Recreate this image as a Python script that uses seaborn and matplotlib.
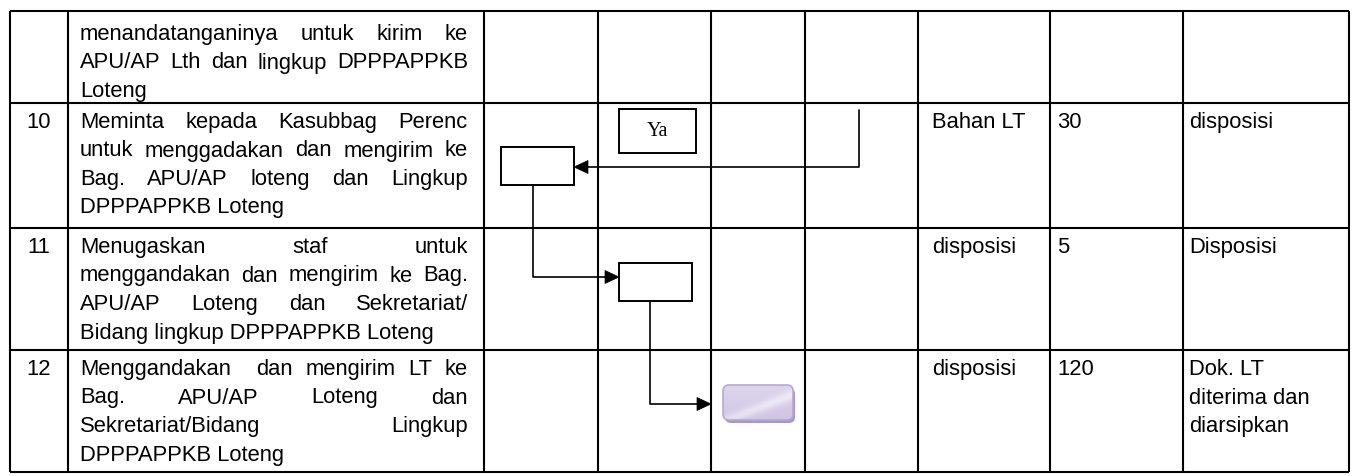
"""
Flowchart table (SOP steps 10-12) rebuilt with seaborn + matplotlib
"""

import numpy as np
import matplotlib
matplotlib.use('Agg')
import matplotlib.pyplot as plt
import seaborn as sns
from matplotlib import font_manager
from matplotlib.patches import Rectangle, FancyBboxPatch, Polygon
from matplotlib.colors import LinearSegmentedColormap

# ---- table content ----
step_numbers = ['', '10', '11', '12']
step_lines = [
    ['menandatanganinya untuk kirim ke', 'APU/AP Lth dan lingkup DPPPAPPKB', 'Loteng'],
    ['Meminta kepada Kasubbag Perenc', 'untuk menggadakan dan mengirim ke',
     'Bag. APU/AP loteng dan Lingkup', 'DPPPAPPKB Loteng'],
    ['Menugaskan staf untuk', 'menggandakan dan mengirim ke Bag.',
     'APU/AP Loteng dan Sekretariat/', 'Bidang lingkup DPPPAPPKB Loteng'],
    ['Menggandakan  dan mengirim LT ke', 'Bag. APU/AP Loteng dan',
     'Sekretariat/Bidang Lingkup', 'DPPPAPPKB Loteng'],
]
kelengkapan = ['', 'Bahan LT', 'disposisi', 'disposisi']
waktu = ['', '30', '5', '120']
output = [[], ['disposisi'], ['Disposisi'], ['Dok. LT', 'diterima dan', 'diarsipkan']]

# flow: lane holding the activity box of each row (None = no box)
flow_lanes = [None, 0, 1, 2]
decision_label = 'Ya'

# ---- layout (pixels) ----
W, H = 1356, 476
col_edges = [10, 68, 484, 598, 711, 805, 918, 1050, 1183, 1349]
row_edges = [11, 103, 228, 350, 472]
first_baseline = [29, 25, 25, 25]
line_pitch = 28.5
desc_left, desc_right = 80, 468
extra_x = [932, 1057, 1189]

body_font, body_size = 'Liberation Sans', 15.8

sns.set_theme(style='white')
plt.rcParams['font.family'] = [body_font, 'DejaVu Sans']
plt.rcParams['text.color'] = 'black'

fig = plt.figure(figsize=(W / 100, H / 100), dpi=100)
ax = fig.add_axes([0, 0, 1, 1])
ax.set_xlim(0, W)
ax.set_ylim(H, 0)
ax.axis('off')
renderer = fig.canvas.get_renderer()
prop = font_manager.FontProperties(family=body_font, size=body_size)


def text_width(s):
    if not s:
        return 0.0
    w, _, _ = renderer.get_text_width_height_descent(s, prop, ismath=False)
    return w


def put(x, y, s, ha='left'):
    ax.text(x, y, s, fontproperties=prop, va='baseline', ha=ha, color='black')


def draw_justified(line, y, left, right):
    """Spread the words of one line over the full cell width"""
    tokens = line.split(' ')
    widths = [text_width(t) for t in tokens]
    gap = (right - left - sum(widths)) / (len(tokens) - 1)
    x = left
    for tok, w in zip(tokens, widths):
        if tok:
            put(x, y, tok)
        x += w + gap


# ---- grid ----
ax.hlines(row_edges, col_edges[0], col_edges[-1], color='black', lw=1.5, zorder=2)
ax.vlines(col_edges, row_edges[0], row_edges[-1], color='black', lw=1.5, zorder=2)

# ---- cell text ----
for r in range(len(step_numbers)):
    base = row_edges[r] + first_baseline[r]
    put((col_edges[0] + col_edges[1]) / 2, base, step_numbers[r], ha='center')
    lines = step_lines[r]
    for i, line in enumerate(lines):
        y = base + i * line_pitch
        if i < len(lines) - 1:
            draw_justified(line, y, desc_left, desc_right)
        else:
            put(desc_left, y, line)
    put(extra_x[0], base, kelengkapan[r])
    put(extra_x[1], base, waktu[r])
    for i, line in enumerate(output[r]):
        put(extra_x[2], base + i * line_pitch, line)

# ---- flow boxes ----
box_left_pad = [None, 17, 21, 12]
box_top_pad = [None, 44, 35, 35]
box_w, box_h = [None, 73, 73, 70], [None, 38, 38, 35]
boxes = {}
for r, lane in enumerate(flow_lanes):
    if lane is None:
        continue
    x0 = col_edges[2 + lane] + box_left_pad[r]
    y0 = row_edges[r] + box_top_pad[r]
    boxes[r] = (x0, y0, box_w[r], box_h[r])

for r in (1, 2):
    x0, y0, w, h = boxes[r]
    ax.add_patch(Rectangle((x0, y0), w, h, fc='white', ec='black', lw=1.4, zorder=3))

# terminal (rounded, purple, with shadow)
x0, y0, w, h = boxes[3]
shadow = FancyBboxPatch((x0 + 2, y0 + 3), w, h, boxstyle='round,pad=0,rounding_size=6',
                        fc='#a899c2', ec='none', zorder=3)
ax.add_patch(shadow)
term = FancyBboxPatch((x0, y0), w, h, boxstyle='round,pad=0,rounding_size=6',
                      fc='none', ec='#b7a8d2', lw=1.2, zorder=5)
ax.add_patch(term)
gx, gy = np.meshgrid(np.linspace(0, 1, 120), np.linspace(0, 1, 60))
streak = np.exp(-((gx * 0.7 + gy * 0.9 - 0.95) ** 2) / 0.02)
vals = 0.35 + 0.25 * (1 - gy) + 0.4 * streak
cmap = LinearSegmentedColormap.from_list('lav', ['#bcaed7', '#d8cfe9', '#f3f0f8'])
im = ax.imshow(vals, extent=(x0, x0 + w, y0 + h, y0), cmap=cmap, vmin=0, vmax=1,
               aspect='auto', zorder=4, origin='upper')
im.set_clip_path(term)

# decision label box
ya_x0 = col_edges[3] + 21
ya_y0 = row_edges[1] + 6
ax.add_patch(Rectangle((ya_x0, ya_y0), 77, 44, fc='white', ec='black', lw=1.4, zorder=3))
ax.text(ya_x0 + 38.5, ya_y0 + 23, decision_label, family='Liberation Serif', fontsize=14.5,
        ha='center', va='center', zorder=4, color='black')


# ---- connectors ----
def arrowhead(tip, direction):
    tx, ty = tip
    L, hw = 14, 6.5
    if direction == 'left':
        pts = [(tx, ty), (tx + L, ty - hw), (tx + L, ty + hw)]
    else:
        pts = [(tx, ty), (tx - L, ty - hw), (tx - L, ty + hw)]
    ax.add_patch(Polygon(pts, closed=True, fc='black', ec='black', lw=0.5, zorder=6))


b1, b2, bt = boxes[1], boxes[2], boxes[3]
src_x = col_edges[5] + 54
connectors = [
    ([src_x, src_x, b1[0] + b1[2] + 8], [row_edges[1] + 7, b1[1] + 20, b1[1] + 20],
     (b1[0] + b1[2], b1[1] + 20), 'left'),
    ([b1[0] + 32, b1[0] + 32, b2[0] - 8], [b1[1] + b1[3], b2[1] + 14, b2[1] + 14],
     (b2[0], b2[1] + 14), 'right'),
    ([b2[0] + 31, b2[0] + 31, col_edges[4] - 8], [b2[1] + b2[3], bt[1] + 19, bt[1] + 19],
     (col_edges[4], bt[1] + 19), 'right'),
]
for xs, ys, tip, d in connectors:
    sns.lineplot(x=xs, y=ys, sort=False, estimator=None, color='black', lw=1.2, ax=ax,
                 zorder=5)
    arrowhead(tip, d)

ax.set_xlim(0, W)
ax.set_ylim(H, 0)
ax.axis('off')
fig.savefig('out.png', dpi=100)
